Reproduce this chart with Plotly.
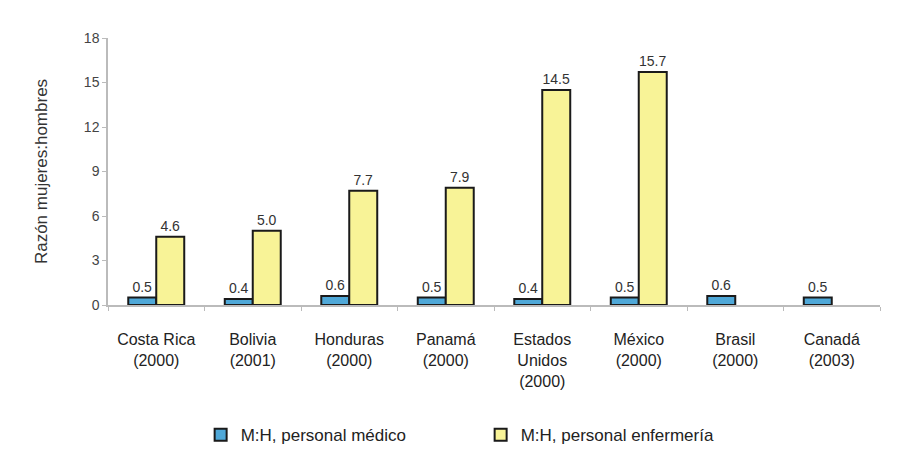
import plotly.graph_objects as go

categories = ["Costa Rica<br>(2000)", "Bolivia<br>(2001)", "Honduras<br>(2000)", "Panamá<br>(2000)",
              "Estados<br>Unidos<br>(2000)", "México<br>(2000)", "Brasil<br>(2000)", "Canadá<br>(2003)"]
medico = [0.5, 0.4, 0.6, 0.5, 0.4, 0.5, 0.6, 0.5]
enfermeria = [4.6, 5.0, 7.7, 7.9, 14.5, 15.7, None, None]
yticks = [0, 3, 6, 9, 12, 15, 18]

font_family = "Liberation Sans, Arial, sans-serif"

fig = go.Figure()
fig.add_trace(go.Bar(
    x=categories, y=medico, name="M:H, personal médico",
    marker=dict(color="#4FA8D8", line=dict(color="#1a1a1a", width=2)),
    text=[f"{v:.1f}" for v in medico], textposition="outside",
    textfont=dict(size=14, color="#333333", family=font_family), cliponaxis=False,
))
fig.add_trace(go.Bar(
    x=categories, y=enfermeria, name="M:H, personal enfermería",
    marker=dict(color="#F8F397", line=dict(color="#1a1a1a", width=2)),
    text=[f"{v:.1f}" if v is not None else "" for v in enfermeria], textposition="outside",
    textfont=dict(size=14, color="#333333", family=font_family), cliponaxis=False,
))

fig.update_layout(
    width=893, height=442,
    margin=dict(l=100, r=21, t=30, b=145, autoexpand=False),
    paper_bgcolor="white", plot_bgcolor="white",
    barmode="group", bargap=0.42, bargroupgap=0,
    font=dict(family=font_family, color="#333333"),
    showlegend=True,
    legend=dict(orientation="h", x=0.12, xanchor="left", y=-0.42, yanchor="top",
                font=dict(size=17, color="#222222"), entrywidth=235,
                itemwidth=30),
)
fig.update_yaxes(
    range=[0, 18], tickvals=yticks, ticks="outside", ticklen=4, tickcolor="#bbbbbb",
    showline=True, linecolor="#bbbbbb", linewidth=1.5, showgrid=False, zeroline=False,
    tickfont=dict(size=14, color="#444444"), automargin=False,
    title=dict(text="Razón mujeres:hombres", font=dict(size=17, color="#333333"), standoff=32),
)
fig.update_xaxes(
    ticks="outside", tickson="boundaries", ticklen=4, tickcolor="#bbbbbb",
    showline=True, linecolor="#bbbbbb", linewidth=1.5, showgrid=False,
    tickfont=dict(size=16, color="#222222"), automargin=False, ticklabelstandoff=19,
)

fig.write_html("out.html")
